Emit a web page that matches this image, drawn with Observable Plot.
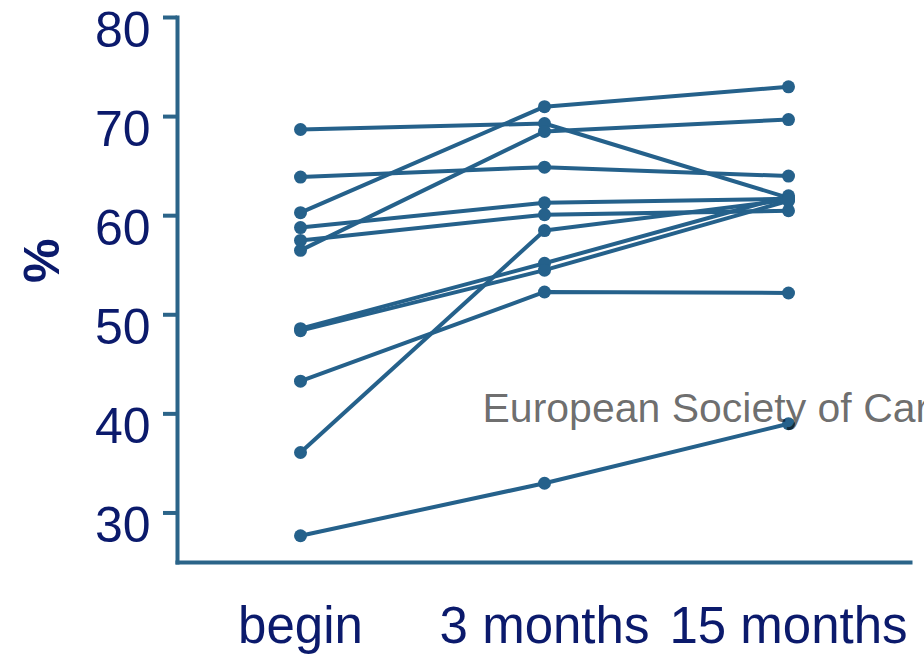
<!DOCTYPE html>
<html>
<head>
<meta charset="utf-8">
<script src="https://cdn.jsdelivr.net/npm/d3@7"></script>
<script src="https://cdn.jsdelivr.net/npm/@observablehq/plot@0.6"></script>
<style>
  html, body { margin: 0; padding: 0; background: #fff; overflow: hidden; }
  #chart svg { overflow: hidden; }
</style>
</head>
<body>
<div id="chart"></div>
<script>
// Time points (x categories)
const periods = ["begin", "3 months", "15 months"];
// One value per patient/series at each time point (%)
const valuesBegin   = [68.7, 56.5, 60.3, 63.9, 58.8, 57.5, 48.6, 48.4, 43.3, 36.1, 27.7];
const values3Months = [69.3, 68.5, 71.0, 64.9, 61.3, 60.1, 55.2, 54.5, 52.3, 58.5, 33.0];
const values15Months= [61.8, 69.7, 73.0, 64.0, 61.7, 60.5, 62.0, 61.5, 52.2, 61.6, 39.0];
const yTicks = [30, 40, 50, 60, 70, 80];
const yLabel = "%";
const watermark = "European Society of Cardiology";

const series = [valuesBegin, values3Months, values15Months];
const data = [];
valuesBegin.forEach((_, i) => {
  periods.forEach((p, j) => data.push({id: i, period: p, value: series[j][i]}));
});

const lineColor = "#25618b";
const axisColor = "#2b6489";
const textColor = "#0b1a6c";

const chart = Plot.plot({
  width: 924,
  height: 654,
  marginLeft: 177,
  marginRight: 14,
  marginTop: 17,
  marginBottom: 92,
  style: {fontFamily: "Liberation Sans, Arial, sans-serif", background: "#fff"},
  x: {type: "point", domain: periods, padding: 0.5},
  y: {domain: [25, 80]},
  marks: [
    Plot.frame({anchor: "left", stroke: axisColor, strokeWidth: 4}),
    Plot.frame({anchor: "bottom", stroke: axisColor, strokeWidth: 4}),
    // tick marks
    Plot.axisY({ticks: yTicks, tickSize: 14, text: null, stroke: axisColor, strokeWidth: 4, label: null}),
    // tick labels (sit slightly below their ticks, as in the reference)
    Plot.axisY({ticks: yTicks, tickSize: 0, tickPadding: 27, fontSize: 50, dy: 13,
      color: textColor, label: null}),
    Plot.axisX({tickSize: 0, tickPadding: 44, fontSize: 51, color: textColor, label: null}),
    Plot.text([yLabel], {frameAnchor: "left", dx: -135, dy: -7, rotate: -90,
      fontSize: 50, fontWeight: "bold", fill: textColor}),
    Plot.line(data, {x: "period", y: "value", z: "id", stroke: lineColor, strokeWidth: 4}),
    Plot.dot(data, {x: "period", y: "value", r: 6.5, fill: lineColor, stroke: "none"}),
    Plot.text([watermark], {frameAnchor: "top-left", dx: 305, dy: 404, lineAnchor: "bottom",
      textAnchor: "start", fontSize: 41, fill: "#000", fillOpacity: 0.58})
  ]
});
document.getElementById("chart").append(chart);
</script>
</body>
</html>
